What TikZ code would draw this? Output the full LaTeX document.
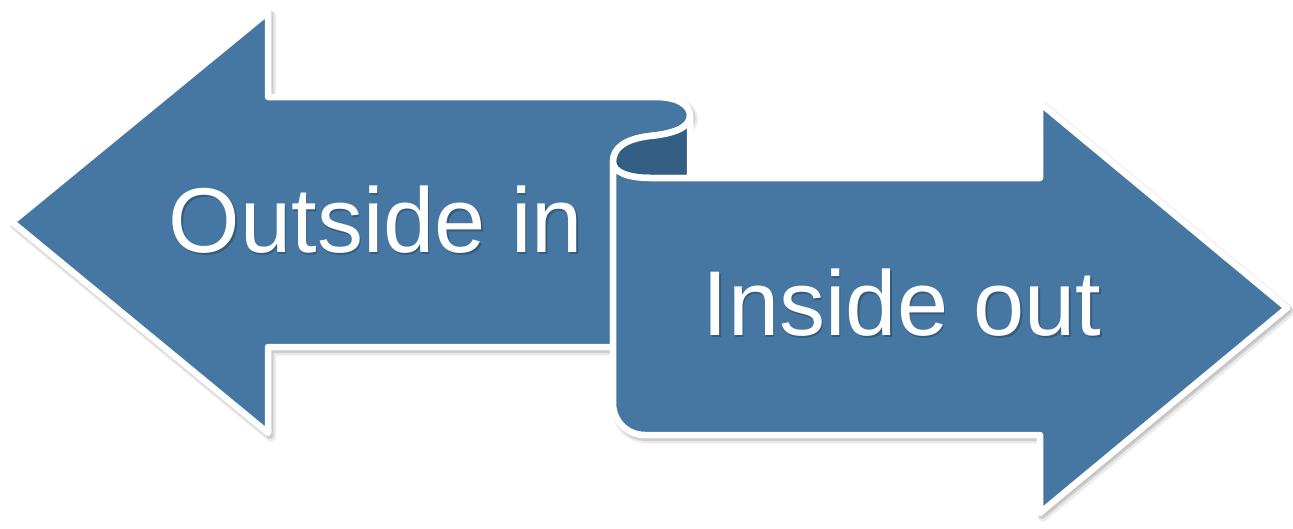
\documentclass[tikz,border=0pt]{standalone}
\usepackage{fontspec}
\setmainfont{Liberation Sans}
\usetikzlibrary{shadows}
\definecolor{ribbon}{RGB}{69,119,162}
\definecolor{ribbondark}{RGB}{52,95,133}
\definecolor{txtshadow}{RGB}{30,50,70}
\tikzset{
  ribbonshape/.style={fill=ribbon, draw=white, line width=6.5pt, line join=round,
    drop shadow={shadow xshift=3pt, shadow yshift=-3.5pt, opacity=0.08, fill=black, draw=black, line width=10pt, line join=round},
    drop shadow={shadow xshift=2pt, shadow yshift=-2.5pt, opacity=0.12, fill=black, draw=black, line width=7pt, line join=round}},
  backshape/.style={fill=ribbondark, draw=white, line width=6.5pt, line join=round},
  label/.style={text=white, inner sep=0pt, anchor=base west, font=\fontsize{92}{110}\selectfont},
  labelshadow/.style={text=txtshadow, opacity=0.4, inner sep=0pt, anchor=base west, font=\fontsize{92}{110}\selectfont}
}
\begin{document}
\begin{tikzpicture}[x=1pt,y=-1pt]
\useasboundingbox (0,0) rectangle (1293,528);
% left arrow
\path[ribbonshape] (12,222) -- (268,12) -- (268,97) -- (655,97)
  .. controls (678,97) and (690,105) .. (690,116)
  .. controls (690,128) and (672,134) .. (650,136)
  .. controls (625,139) and (613,148) .. (613,162)
  -- (613,347) -- (268,347) -- (268,433) -- cycle;
% back of the curl
\path[backshape] (690,116) -- (690,178) -- (650,178)
  .. controls (628,178) and (613,172) .. (613,162)
  .. controls (613,148) and (625,139) .. (650,136)
  .. controls (672,134) and (690,128) .. (690,116) -- cycle;
% right arrow
\path[ribbonshape] (613,162)
  .. controls (613,172) and (628,178) .. (650,178)
  -- (1040,178) -- (1040,103) -- (1287,308) -- (1040,513) -- (1040,435)
  -- (645,435) .. controls (627,435) and (613,421) .. (613,403) -- cycle;
% labels
\node[labelshadow] (lsh) at (170,254) {Outside in};
\node[label] (l) at (168.5,252) {Outside in};
\node[labelshadow] (rsh) at (704,337) {Inside out};
\node[label] (r) at (702.5,335) {Inside out};
\end{tikzpicture}
\end{document}
